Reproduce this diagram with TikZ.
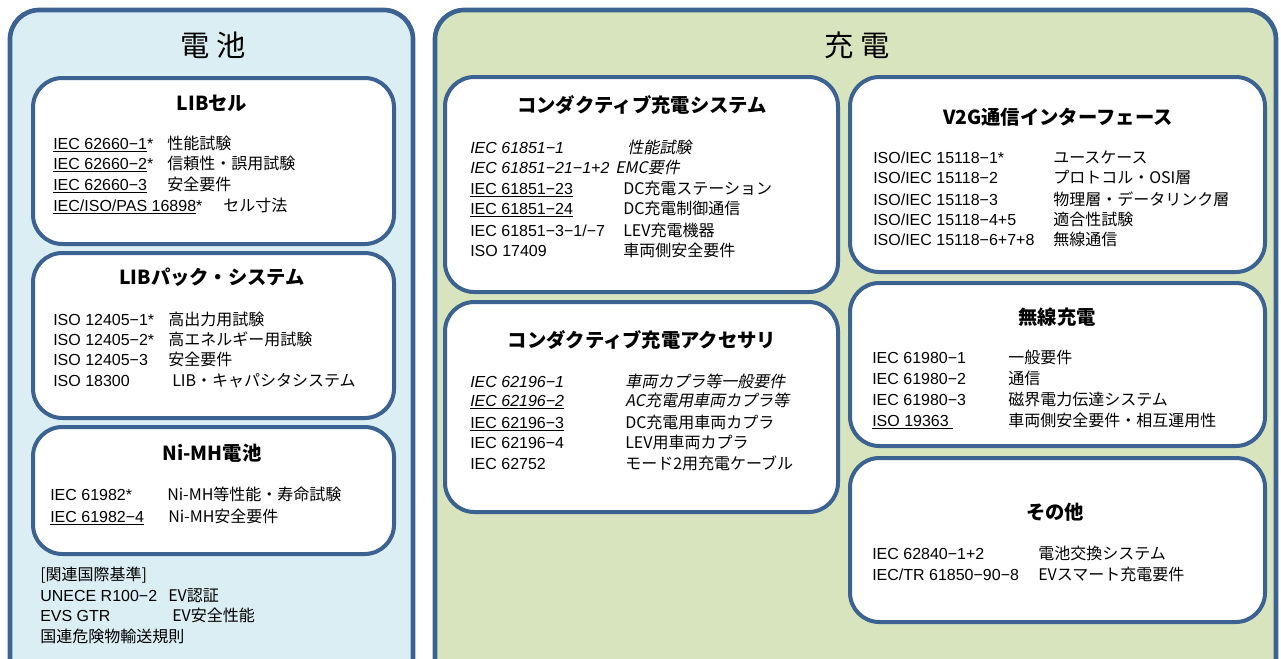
\documentclass[tikz,border=0pt]{standalone}
\usepackage{fontspec}
\usepackage{tikz}
\setmainfont{Liberation Sans}
\newfontfamily\jp{Noto Sans CJK JP}
\newfontfamily\jpit{Noto Sans CJK JP}[FakeSlant=0.2]

\definecolor{frame}{RGB}{59,98,145}
\definecolor{battfill}{RGB}{219,238,244}
\definecolor{chgfill}{RGB}{215,228,189}

\tikzset{
  panel/.style={draw=frame,line width=3.5pt,rounded corners=22pt},
  inbox/.style={draw=frame,fill=white,line width=3pt,rounded corners=22pt},
  head/.style={font=\jp\fontsize{22}{26}\selectfont},
  title/.style={font=\jp\bfseries\fontsize{14.5}{17}\selectfont},
  std/.style={anchor=west,inner sep=0pt,text height=9.5pt,text depth=1pt,
    font=\fontsize{12}{14}\selectfont},
  dsc/.style={std,font=\jp\fontsize{12}{14}\selectfont},
}

\begin{document}
\begin{tikzpicture}[x=0.75pt,y=-0.75pt]
  \clip (0,0) rectangle (1281,658);
  % outer panels
  \draw[panel,fill=battfill] (10,10) rectangle (413,700);
  \draw[panel,fill=chgfill] (435,10) rectangle (1276,700);
  \node[head] (batt) at (213,45) {電 池};
  \node[head] (chg) at (857,45) {充 電};

  % battery side
  \draw[inbox] (33,78) rectangle (394,244);
  \draw[inbox] (33,253) rectangle (394,418);
  \draw[inbox] (33,427) rectangle (394,554);
  \node[title] (cell) at (212,103) {LIBセル};
  \node[title] (pack) at (212,277) {LIBパック・システム};
  \node[title] (nimh) at (212,453) {Ni-MH電池};

  \foreach \y/\c/\dx/\d [count=\i] in {
      144/\underline{IEC 62660−1}*/167/性能試験,
      164/\underline{IEC 62660−2}*/167/信頼性・誤用試験,
      185/\underline{IEC 62660−3}/167/安全要件,
      206/{\underline{IEC/ISO/PAS 16898}*}/223/セル寸法}
    {\node[std] (cell-c\i) at (53,\y) {\c};
     \node[dsc] (cell-d\i) at (\dx,\y) {\d};}

  \foreach \y/\c/\dx/\d [count=\i] in {
      320/ISO 12405−1*/168/高出力用試験,
      340/ISO 12405−2*/168/高エネルギー用試験,
      360/ISO 12405−3/168/安全要件,
      381/ISO 18300/172/LIB・キャパシタシステム}
    {\node[std] (pack-c\i) at (53,\y) {\c};
     \node[dsc] (pack-d\i) at (\dx,\y) {\d};}

  \foreach \y/\c/\dx/\d [count=\i] in {
      495/IEC 61982*/167/Ni-MH等性能・寿命試験,
      517/\underline{IEC 61982−4}/168/Ni-MH安全要件}
    {\node[std] (nimh-c\i) at (50,\y) {\c};
     \node[dsc] (nimh-d\i) at (\dx,\y) {\d};}

  \node[dsc] (rel) at (40,575) {[関連国際基準]};
  \node[std] (rel-c1) at (40,596) {UNECE R100−2};
  \node[dsc] (rel-d1) at (168,596) {EV認証};
  \node[std] (rel-c2) at (40,616) {EVS GTR};
  \node[dsc] (rel-d2) at (172,616) {EV安全性能};
  \node[dsc] (rel-un) at (40,637) {国連危険物輸送規則};

  % charging side
  \draw[inbox] (445,77) rectangle (838,292);
  \draw[inbox] (445,302) rectangle (838,512);
  \draw[inbox] (850,77) rectangle (1265,272);
  \draw[inbox] (850,283) rectangle (1265,446);
  \draw[inbox] (850,458) rectangle (1265,622);
  \node[title] (csys) at (642,105) {コンダクティブ充電システム};
  \node[title] (cacc) at (642,340) {コンダクティブ充電アクセサリ};
  \node[title] (v2g) at (1058,117) {V2G通信インターフェース};
  \node[title] (wpt) at (1057,317) {無線充電};
  \node[title] (misc) at (1055,512) {その他};

  \foreach \y/\c/\dx/\d [count=\i] in {
      148/{\itshape IEC 61851−1}/627/{\jpit 性能試験},
      168/{\itshape IEC 61851−21−1+2}/615/{\jpit EMC要件},
      189/\underline{IEC 61851−23}/623/DC充電ステーション,
      209/\underline{IEC 61851−24}/623/DC充電制御通信,
      231/{IEC 61851−3−1/−7}/623/LEV充電機器,
      251/ISO 17409/623/車両側安全要件}
    {\node[std] (csys-c\i) at (470,\y) {\c};
     \node[dsc] (csys-d\i) at (\dx,\y) {\d};}

  \foreach \y/\c/\dx/\d [count=\i] in {
      382/{\itshape IEC 62196−1}/625/{\jpit 車両カプラ等一般要件},
      401/{\itshape\underline{IEC 62196−2}}/625/{\jpit AC充電用車両カプラ等},
      423/\underline{IEC 62196−3}/625/DC充電用車両カプラ,
      443/IEC 62196−4/625/LEV用車両カプラ,
      464/IEC 62752/625/モード2用充電ケーブル}
    {\node[std] (cacc-c\i) at (470,\y) {\c};
     \node[dsc] (cacc-d\i) at (\dx,\y) {\d};}

  \foreach \y/\c/\dx/\d [count=\i] in {
      158/{ISO/IEC 15118−1*}/1053/ユースケース,
      178/{ISO/IEC 15118−2}/1053/プロトコル・OSI層,
      200/{ISO/IEC 15118−3}/1053/物理層・データリンク層,
      220/{ISO/IEC 15118−4+5}/1053/適合性試験,
      240/{ISO/IEC 15118−6+7+8}/1053/無線通信}
    {\node[std] (v2g-c\i) at (873,\y) {\c};
     \node[dsc] (v2g-d\i) at (\dx,\y) {\d};}

  \foreach \y/\c/\dx/\d [count=\i] in {
      358/IEC 61980−1/1008/一般要件,
      379/IEC 61980−2/1008/通信,
      400/IEC 61980−3/1008/磁界電力伝達システム,
      421/\underline{ISO 19363~}/1008/車両側安全要件・相互運用性}
    {\node[std] (wpt-c\i) at (872,\y) {\c};
     \node[dsc] (wpt-d\i) at (\dx,\y) {\d};}

  \foreach \y/\c/\dx/\d [count=\i] in {
      554/IEC 62840−1+2/1038/電池交換システム,
      575/{IEC/TR 61850−90−8}/1038/EVスマート充電要件}
    {\node[std] (misc-c\i) at (872,\y) {\c};
     \node[dsc] (misc-d\i) at (\dx,\y) {\d};}
\end{tikzpicture}
\end{document}
